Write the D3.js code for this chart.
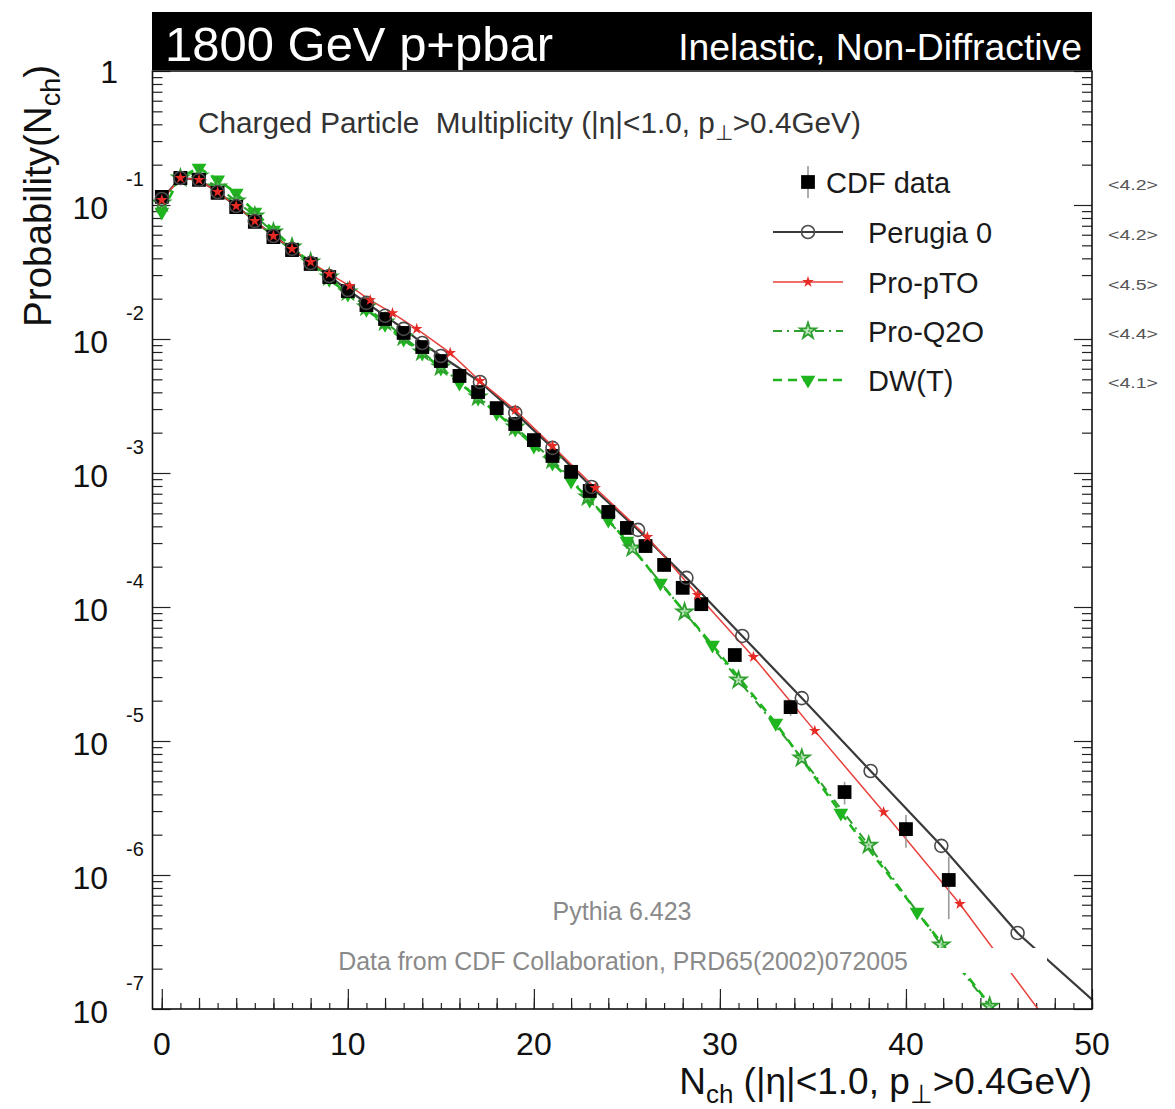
<!DOCTYPE html>
<html><head><meta charset="utf-8">
<script src="https://cdn.jsdelivr.net/npm/d3@7"></script>
<style>
body{margin:0;background:#fff}
svg{display:block}
text{font-family:"Liberation Sans",Arial,Helvetica,sans-serif;white-space:pre}
</style>
</head><body>
<svg id="c" width="1175" height="1109"></svg>
<script>
// ---------------- data ----------------
const cdfN = [0,1,2,3,4,5,6,7,8,9,10,11,12,13,14,15,16,17,18,19,20,21,22,23,24,25,26,27,28,29,30.8,33.8,36.7,40.0,42.3];
const cdfP = [0.115,0.159,0.154,0.123,0.0966,0.0747,0.0577,0.0461,0.0363,0.0290,0.0228,0.0179,0.0141,0.0111,0.00871,0.00685,0.00530,0.00402,0.00305,0.00232,0.00176,0.00134,0.00102,0.000734,0.000512,0.000389,0.000285,0.000206,0.000139,0.000105,4.38e-5,1.79e-5,4.16e-6,2.20e-6,9.18e-7];
const cdfErr = [0.002,0.002,0.002,0.002,0.0015,0.0012,0.001,0.0008,0.0007,0.0006,0.0005,0.0004,0.0003,0.00025,0.0002,0.00016,0.00013,0.0001,8e-5,6e-5,5e-5,4e-5,3e-5,2.5e-5,2e-5,1.6e-5,1.3e-5,1e-5,8e-6,7e-6,4e-6,2.5e-6,0.8e-6,0.6e-6,0.45e-6];

const perugiaN = [0,1,2,3,4,5,6,7,8,9,10,11,12,13,14,15,17.1,19,21,23.1,25.6,28.2,31.2,34.4,38.1,41.9,46,50.5];
const perugiaP = [0.111,0.159,0.154,0.125,0.0983,0.0760,0.0587,0.0470,0.0369,0.0295,0.0232,0.0186,0.0149,0.0119,0.00933,0.00747,0.00478,0.00281,0.00154,0.000787,0.000376,0.000165,6.08e-5,2.09e-5,5.97e-6,1.65e-6,3.69e-7,1.02e-7];

const proPtoN = [0,1,2,3,4,5,6,7,8,9,10.1,11.2,12.4,13.7,15.5,17.1,19,21,23.3,26.1,28.8,31.8,35.1,38.8,42.9,47.5];
const proPtoP = [0.109,0.159,0.154,0.125,0.0983,0.0760,0.0587,0.0470,0.0376,0.0306,0.0249,0.0195,0.0156,0.0119,0.00787,0.00486,0.00295,0.00159,0.000773,0.000333,0.000123,4.24e-5,1.19e-5,2.95e-6,6.08e-7,8.4e-8];

const proQ2oN = [0,1,2,3,4,5,6,7,8,9,10,11,12,13,14,15,17,19,21,22.9,25.3,28.1,31.0,34.4,38.0,41.9,44.5];
const proQ2oP = [0.1035,0.159,0.1646,0.136,0.107,0.0828,0.0629,0.0486,0.0376,0.0290,0.0224,0.0173,0.0134,0.01035,0.00800,0.00618,0.00369,0.00220,0.00125,0.000662,0.000275,9.18e-5,2.85e-5,7.46e-6,1.67e-6,3.0e-7,1.05e-7];

const dwN = [0,1,2,3,4,5,6,7,8,9,10,11,12,13,14,15,16,17,18,19,20,21,22,23,24,25,26.8,29.6,33.0,36.5,40.6,45.0];
const dwP = [0.0887,0.162,0.189,0.154,0.123,0.0887,0.0651,0.0486,0.0369,0.0280,0.0217,0.0167,0.0129,0.0100,0.00787,0.00608,0.00470,0.00363,0.00281,0.00213,0.00159,0.00119,0.000871,0.000629,0.000446,0.000311,0.000151,5.2e-5,1.36e-5,2.90e-6,5.3e-7,8.8e-8];

const xTickLabels = [0,10,20,30,40,50];
const yDecades = [0,-1,-2,-3,-4,-5,-6,-7];
const legendLabels = ["CDF data","Perugia 0","Pro-pTO","Pro-Q2O","DW(T)"];
const meanLabels = ["<4.2>","<4.2>","<4.5>","<4.4>","<4.1>"];
const titleLeft = "1800 GeV p+pbar";
const titleRight = "Inelastic, Non-Diffractive";
const noteTop = "Pythia 6.423";
const noteBottom = "Data from CDF Collaboration, PRD65(2002)072005";

// ---------------- setup ----------------
const svg = d3.select("#c");
const X0 = 152.5, X1 = 1092, Y0 = 1009, Y1 = 71;
const x = d3.scaleLinear().domain([-0.5, 50]).range([X0, X1]);
const y = d3.scaleLog().domain([1e-7, 1]).range([Y0, Y1]);

function fit(t, w) {
  const bb = t.node().getBBox().width;
  const fs = parseFloat(t.attr("font-size"));
  t.attr("font-size", fs * w / bb);
}
const zip = (ns, ps) => ns.map((n, i) => ({n, p: ps[i]}));

svg.append("defs").append("clipPath").attr("id", "clip")
  .append("rect").attr("x", X0).attr("y", Y1).attr("width", X1 - X0).attr("height", Y0 - Y1);

// title bar
svg.append("rect").attr("x", 152).attr("y", 12).attr("width", 940).attr("height", 58).attr("fill", "#000");
fit(svg.append("text").attr("x", 165).attr("y", 61).attr("font-size", 46).attr("fill", "#fff").text(titleLeft), 388);
fit(svg.append("text").attr("x", 1082).attr("y", 60).attr("text-anchor", "end").attr("font-size", 37).attr("fill", "#fff").text(titleRight), 404);

// ticks
function ticks(g, axis) { g.call(axis); g.select(".domain").remove(); g.selectAll(".tick line").attr("stroke", "#222").attr("stroke-width", 1.2); }
const gxb = svg.append("g").attr("transform", `translate(0,${Y0})`);
ticks(gxb.append("g"), d3.axisBottom(x).tickValues(d3.range(0, 51, 1)).tickSize(-6).tickFormat(""));
ticks(gxb.append("g"), d3.axisBottom(x).tickValues(d3.range(0, 51, 2)).tickSize(-11).tickFormat(""));
ticks(gxb.append("g"), d3.axisBottom(x).tickValues(xTickLabels).tickSize(-20).tickFormat(""));

const minorY = [];
yDecades.slice(1).forEach(e => { for (let m = 2; m <= 9; m++) minorY.push(m * Math.pow(10, e)); });
const majorY = yDecades.map(e => Math.pow(10, e));
const gyl = svg.append("g").attr("transform", `translate(${X0},0)`);
ticks(gyl.append("g"), d3.axisLeft(y).tickValues(minorY).tickSize(-10).tickFormat(""));
ticks(gyl.append("g"), d3.axisLeft(y).tickValues(majorY).tickSize(-18).tickFormat(""));
const gyr = svg.append("g").attr("transform", `translate(${X1},0)`);
ticks(gyr.append("g"), d3.axisRight(y).tickValues(minorY).tickSize(-10).tickFormat(""));
ticks(gyr.append("g"), d3.axisRight(y).tickValues(majorY).tickSize(-18).tickFormat(""));

// tick labels
svg.append("g").selectAll("text").data(xTickLabels).join("text")
  .attr("x", d => x(d)).attr("y", 1055).attr("text-anchor", "middle")
  .attr("font-size", 32).attr("fill", "#111").text(d => d);
const yl = svg.append("g");
yDecades.forEach(e => {
  const yy = y(Math.pow(10, e));
  if (e === 0) {
    yl.append("text").attr("x", 118).attr("y", yy + 12).attr("text-anchor", "end").attr("font-size", 32).attr("fill", "#111").text("1");
  } else {
    yl.append("text").attr("x", 108).attr("y", yy + 14).attr("text-anchor", "end").attr("font-size", 32).attr("fill", "#111").text("10");
    yl.append("text").attr("x", 126).attr("y", yy - 19).attr("font-size", 20).attr("fill", "#111").text(String(e));
  }
});

// axis titles
const xt = svg.append("text").attr("x", X1).attr("y", 1094).attr("text-anchor", "end").attr("font-size", 30).attr("fill", "#111");
xt.append("tspan").text("N");
xt.append("tspan").attr("font-size", "70%").attr("dy", "0.35em").text("ch");
xt.append("tspan").attr("dy", "-0.25em").text(" (|η|<1.0, p");
xt.append("tspan").attr("font-size", "70%").attr("dy", "0.35em").text("⊥");
xt.append("tspan").attr("dy", "-0.25em").text(">0.4GeV)");
fit(xt, 412);

const yt = svg.append("text").attr("transform", "translate(51,65) rotate(-90)").attr("text-anchor", "end").attr("font-size", 28).attr("fill", "#111");
yt.append("tspan").text("Probability(N");
yt.append("tspan").attr("font-size", "70%").attr("dy", "0.35em").text("ch");
yt.append("tspan").attr("dy", "-0.25em").text(")");
fit(yt, 262);

// subtitle
const st = svg.append("text").attr("x", 198).attr("y", 133).attr("font-size", 25).attr("fill", "#333");
st.append("tspan").text("Charged Particle  Multiplicity (|η|<1.0, p");
st.append("tspan").attr("font-size", "70%").attr("dy", "0.35em").text("⊥");
st.append("tspan").attr("dy", "-0.25em").text(">0.4GeV)");
fit(st, 664);

// ---------------- series ----------------
const styles = {
  per: {stroke: "#3a3a3a", w: 2.2, dash: null},
  pto: {stroke: "#e8413c", w: 1.5, dash: null},
  q2o: {stroke: "#2e9e2e", w: 2, dash: "9,5,2,5"},
  dw:  {stroke: "#1fb51f", w: 2.6, dash: "9,6"}
};
const line = d3.line().x(d => x(d.n)).y(d => y(d.p));
const plot = svg.append("g").attr("clip-path", "url(#clip)");
const series = {per: zip(perugiaN, perugiaP), pto: zip(proPtoN, proPtoP), q2o: zip(proQ2oN, proQ2oP), dw: zip(dwN, dwP)};
["per", "pto", "q2o", "dw"].forEach(k => {
  plot.append("path").datum(series[k]).attr("d", line).attr("fill", "none")
    .attr("stroke", styles[k].stroke).attr("stroke-width", styles[k].w)
    .attr("stroke-dasharray", styles[k].dash);
});

const starSmall = d3.symbol().type(d3.symbolStar).size(42)();
const starBig = d3.symbol().type(d3.symbolStar).size(80)();
const tri = d3.symbol().type(d3.symbolTriangle).size(95)();
const sq = d3.symbol().type(d3.symbolSquare).size(190)();

function drawDW(g, cx, cy) { g.append("path").attr("d", tri).attr("transform", `translate(${cx},${cy}) rotate(180)`).attr("fill", "#1fb51f"); }
function drawQ2O(g, cx, cy) { g.append("path").attr("d", starBig).attr("transform", `translate(${cx},${cy})`).attr("fill", "rgba(140,210,140,0.55)").attr("stroke", "#2e9e2e").attr("stroke-width", 1.8); }
function drawPer(g, cx, cy) { g.append("circle").attr("cx", cx).attr("cy", cy).attr("r", 6.5).attr("fill", "none").attr("stroke", "#4a4a4a").attr("stroke-width", 1.6); }
function drawPto(g, cx, cy) { g.append("path").attr("d", starSmall).attr("transform", `translate(${cx},${cy})`).attr("fill", "#e62a25"); }
function drawCDF(g, cx, cy) { g.append("path").attr("d", sq).attr("transform", `translate(${cx},${cy})`).attr("fill", "#000"); }

series.dw.forEach(d => drawDW(plot, x(d.n), y(d.p)));
series.q2o.forEach(d => drawQ2O(plot, x(d.n), y(d.p)));
const cdf = cdfN.map((n, i) => ({n, p: cdfP[i], e: cdfErr[i]}));
plot.selectAll("line.err").data(cdf).join("line").attr("class", "err")
  .attr("x1", d => x(d.n)).attr("x2", d => x(d.n))
  .attr("y1", d => y(d.p + d.e)).attr("y2", d => y(Math.max(d.p - d.e, 1e-9)))
  .attr("stroke", "#9a9a9a").attr("stroke-width", 1.6);
cdf.forEach(d => drawCDF(plot, x(d.n), y(d.p)));
series.per.forEach(d => drawPer(plot, x(d.n), y(d.p)));
series.pto.forEach(d => drawPto(plot, x(d.n), y(d.p)));

// white note box that covers the curves
svg.append("rect").attr("x", 200).attr("y", 948).attr("width", 847).attr("height", 25).attr("fill", "#fff");
fit(svg.append("text").attr("x", 622).attr("y", 920).attr("text-anchor", "middle").attr("font-size", 20).attr("fill", "#8a8a8a").text(noteTop), 139);
fit(svg.append("text").attr("x", 623).attr("y", 970).attr("text-anchor", "middle").attr("font-size", 20).attr("fill", "#8a8a8a").text(noteBottom), 570);

// frame
svg.append("rect").attr("x", X0).attr("y", Y1).attr("width", X1 - X0).attr("height", Y0 - Y1)
  .attr("fill", "none").attr("stroke", "#111").attr("stroke-width", 1.6);

// ---------------- legend ----------------
const rowsY = [182, 232, 282, 331, 380];
const lg = svg.append("g");
lg.append("line").attr("x1", 808).attr("x2", 808).attr("y1", 166).attr("y2", 198).attr("stroke", "#9a9a9a").attr("stroke-width", 1.6);
drawCDF(lg, 808, rowsY[0]);
const lkeys = ["per", "pto", "q2o", "dw"];
lkeys.forEach((k, i) => {
  const yy = rowsY[i + 1];
  lg.append("line").attr("x1", 773).attr("x2", 843).attr("y1", yy).attr("y2", yy)
    .attr("stroke", styles[k].stroke).attr("stroke-width", styles[k].w).attr("stroke-dasharray", styles[k].dash);
  if (k === "per") drawPer(lg, 808, yy);
  if (k === "pto") drawPto(lg, 808, yy);
  if (k === "q2o") drawQ2O(lg, 808, yy);
  if (k === "dw") drawDW(lg, 808, yy);
});
legendLabels.forEach((t, i) => {
  lg.append("text").attr("x", i === 0 ? 826 : 868).attr("y", rowsY[i] + 11).attr("font-size", 29).attr("fill", "#1a1a1a").text(t);
});
meanLabels.forEach((t, i) => {
  lg.append("text").attr("x", 1108).attr("y", rowsY[i] + 8).attr("font-size", 15).attr("fill", "#555")
    .attr("textLength", 50).attr("lengthAdjust", "spacingAndGlyphs").text(t);
});
</script>
</body></html>
